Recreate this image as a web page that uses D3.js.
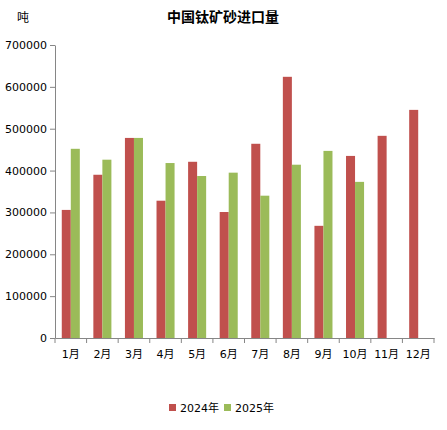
<!DOCTYPE html>
<html><head><meta charset="utf-8">
<script src="https://cdn.jsdelivr.net/npm/d3@7"></script>
<style>body{margin:0;background:#fff}svg{display:block}text{font-family:"DejaVu Sans","Noto Sans CJK SC",sans-serif}</style>
</head><body><svg id="c" width="447" height="430"></svg>
<script>
const months = ["1月","2月","3月","4月","5月","6月","7月","8月","9月","10月","11月","12月"];
const seriesNames = ["2024年","2025年"];
const values2024 = [306000,390000,478000,328000,421000,301000,464000,624000,268000,435000,483000,545000];
const values2025 = [452000,426000,478000,418000,387000,395000,340000,414000,447000,373000,null,null];
const yTicks = [0,100000,200000,300000,400000,500000,600000,700000];
const colors = ["#C0504D","#9BBB59"];

const svg = d3.select("#c");
const m = {l:55, r:13, t:45, b:92};
const W = 447, H = 430;
const x = d3.scaleBand().domain(months).range([m.l, W-m.r]).paddingInner(0).paddingOuter(0);
const y = d3.scaleLinear().domain([0,700000]).range([H-m.b, m.t]);
const xs = d3.scaleBand().domain(seriesNames).range([0, x.bandwidth()]).paddingInner(0).paddingOuter(0.75);

svg.append("text").attr("x",223).attr("y",22).attr("text-anchor","middle")
  .attr("font-size",14).attr("font-weight","bold").text("中国钛矿砂进口量");
svg.append("text").attr("x",17).attr("y",22).attr("font-size",12).text("吨");

const rows = months.map((mo,i)=>({mo, v:[values2024[i], values2025[i]]}));
const g = svg.append("g");
rows.forEach(r=>{
  r.v.forEach((v,j)=>{
    if(v==null) return;
    g.append("rect").attr("x",x(r.mo)+xs(seriesNames[j])).attr("width",xs.bandwidth())
      .attr("y",y(v)).attr("height",y(0)-y(v)).attr("fill",colors[j]);
  });
});

const ya = svg.append("g").attr("transform",`translate(${m.l},0)`)
  .call(d3.axisLeft(y).tickValues(yTicks).tickSize(5).tickSizeOuter(0).tickFormat(d=>String(d)));
ya.select(".domain").attr("stroke","#868686");
ya.selectAll(".tick line").attr("stroke","#868686");
ya.selectAll(".tick text").attr("font-size",11).attr("fill","#000").attr("x",-8)
  .style("font-family","DejaVu Sans");

const xa = svg.append("g").attr("transform",`translate(0,${y(0)})`)
  .call(d3.axisBottom(x).tickSize(0).tickSizeOuter(0));
xa.select(".domain").attr("stroke","#868686");
xa.selectAll(".tick text").attr("font-size",11).attr("fill","#000").attr("dy","0").attr("y",20);
const bounds = months.map(mo=>x(mo)).concat([W-m.r]);
xa.selectAll(".bnd").data(bounds).enter().append("line").attr("class","bnd")
  .attr("x1",d=>d).attr("x2",d=>d).attr("y1",0).attr("y2",5).attr("stroke","#868686");

const leg = svg.append("g");
const lx = [169, 224];
seriesNames.forEach((s,i)=>{
  leg.append("rect").attr("x",lx[i]).attr("y",404).attr("width",7).attr("height",7).attr("fill",colors[i]);
  leg.append("text").attr("x",lx[i]+11).attr("y",412).attr("font-size",11).text(s);
});
</script></body></html>
